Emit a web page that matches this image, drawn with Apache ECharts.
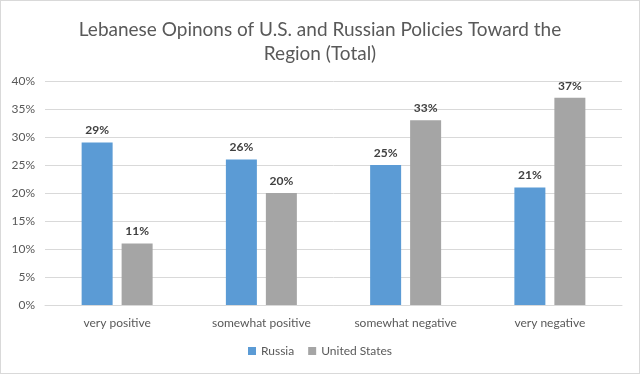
<!DOCTYPE html>
<html><head><meta charset="utf-8">
<script src="https://cdn.jsdelivr.net/npm/echarts@6/dist/echarts.min.js"></script>
<style>html,body{margin:0;padding:0;background:#fff}#c{width:640px;height:374px;box-sizing:border-box;border:1px solid #d9d9d9}</style>
</head><body><div id="c"></div>
<script>
const categories = ['very positive', 'somewhat positive', 'somewhat negative', 'very negative'];
const russia = [29, 26, 25, 21];
const unitedStates = [11, 20, 33, 37];
const yTicks = [0, 5, 10, 15, 20, 25, 30, 35, 40];

const chart = echarts.init(document.getElementById('c'));
const font = 'Lato, "Open Sans", sans-serif';
const label = {show: true, position: 'top', distance: 6, formatter: p => p.value + '%', fontWeight: 'bold', fontSize: 12, color: '#404040', fontFamily: font};
chart.setOption({
  animation: false,
  title: {text: 'Lebanese Opinons of U.S. and Russian Policies Toward the\nRegion (Total)', left: 'center', top: 12,
    textStyle: {fontSize: 19, fontWeight: 'normal', color: '#595959', fontFamily: font, lineHeight: 24}},
  legend: {bottom: 11, itemWidth: 8, itemHeight: 8, itemGap: 14, icon: 'rect',
    textStyle: {fontSize: 12, color: '#595959', fontFamily: font}, data: ['Russia', 'United States']},
  grid: {left: 44, right: 17, top: 80, bottom: 68},
  xAxis: {type: 'category', data: categories, axisTick: {show: false},
    axisLine: {lineStyle: {color: '#d9d9d9'}},
    axisLabel: {fontSize: 12, color: '#595959', fontFamily: font, margin: 12}},
  yAxis: {type: 'value', min: 0, max: 40, interval: 5,
    axisLabel: {formatter: v => yTicks.includes(v) ? v + '%' : '', fontSize: 12, color: '#595959', fontFamily: font, margin: 10},
    splitLine: {lineStyle: {color: '#d9d9d9'}}},
  series: [
    {name: 'Russia', type: 'bar', data: russia, barWidth: 31, barGap: '29%', itemStyle: {color: '#5B9BD5'}, label},
    {name: 'United States', type: 'bar', data: unitedStates, barWidth: 31, itemStyle: {color: '#A5A5A5'}, label}
  ]
});
</script></body></html>
